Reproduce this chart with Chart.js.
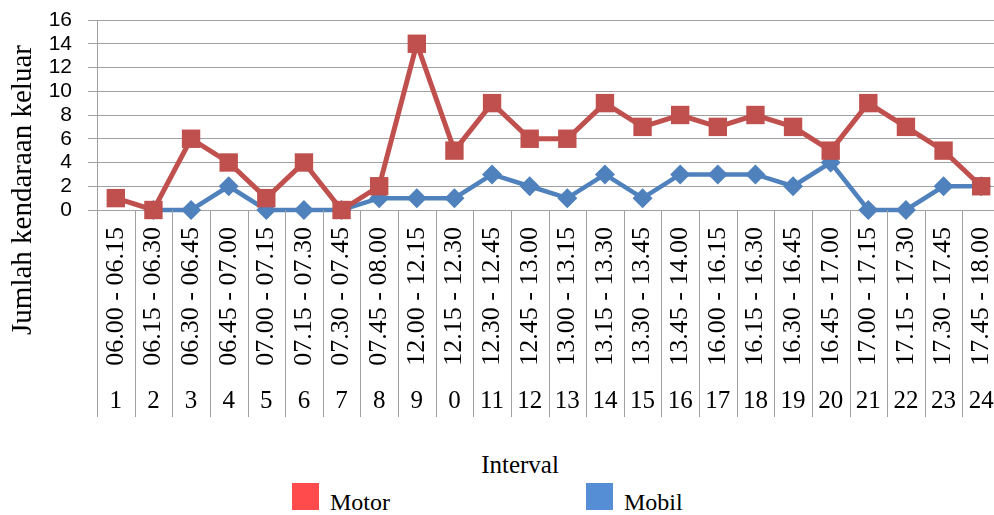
<!DOCTYPE html>
<html>
<head>
<meta charset="utf-8">
<script src="https://cdn.jsdelivr.net/npm/chart.js@4.4.1/dist/chart.umd.min.js"></script>
<style>
  html, body { margin: 0; padding: 0; background: #fff; overflow: hidden; }
  #page { position: relative; width: 994px; height: 515px; overflow: hidden; }
  #chart { position: absolute; left: 0; top: 0; }
  #yTitle { position: absolute; left: -138px; top: 173px; width: 320px; height: 34px; line-height: 34px;
    text-align: center; font: 29px "Liberation Serif"; color: #000; transform: rotate(-90deg); white-space: nowrap; }
  #axisTitle { position: absolute; left: 420px; top: 452px; width: 200px; text-align: center;
    font: 25px "Liberation Serif"; line-height: 25px; color: #000; }
  .item { position: absolute; top: 483px; height: 27px; }
  .item .box { position: absolute; left: 0; top: 0; width: 27px; height: 27px; }
  .item .txt { position: absolute; left: 38px; top: 7px; font: 24px "Liberation Serif"; line-height: 24px; color: #000; white-space: nowrap; }
</style>
</head>
<body>
<div id="page">
  <canvas id="chart" width="1000" height="418"></canvas>
  <div id="yTitle">Jumlah kendaraan keluar</div>
  <div id="axisTitle">Interval</div>
  <div id="legend"></div>
</div>
<script>
// category labels (two levels on the x axis)
const intervals = ['06.00 - 06.15', '06.15 - 06.30', '06.30 - 06.45', '06.45 - 07.00',
  '07.00 - 07.15', '07.15 - 07.30', '07.30 - 07.45', '07.45 - 08.00',
  '12.00 - 12.15', '12.15 - 12.30', '12.30 - 12.45', '12.45 - 13.00',
  '13.00 - 13.15', '13.15 - 13.30', '13.30 - 13.45', '13.45 - 14.00',
  '16.00 - 16.15', '16.15 - 16.30', '16.30 - 16.45', '16.45 - 17.00',
  '17.00 - 17.15', '17.15 - 17.30', '17.30 - 17.45', '17.45 - 18.00'];
const intervalNumbers = ['1', '2', '3', '4', '5', '6', '7', '8', '9', '0', '11', '12',
  '13', '14', '15', '16', '17', '18', '19', '20', '21', '22', '23', '24'];
// series
const motor = [1, 0, 6, 4, 1, 4, 0, 2, 14, 5, 9, 6, 6, 9, 7, 8, 7, 8, 7, 5, 9, 7, 5, 2];
const mobil = [null, 0, 0, 2, 0, 0, 0, 1, 1, 1, 3, 2, 1, 3, 1, 3, 3, 3, 2, 4, 0, 0, 2, 2];
const yTicks = [0, 2, 4, 6, 8, 10, 12, 14, 16];

const gridColor = '#a0a0a0';
const serif = 'Liberation Serif';
const legendColors = ['#ff4b4b', '#558ed5'];

// vertical separators through both label rows of the x axis
const separators = {
  id: 'separators',
  afterDraw(chart) {
    const x = chart.scales.x;
    const x2 = chart.scales.x2;
    const c = chart.ctx;
    const half = (x.getPixelForValue(1) - x.getPixelForValue(0)) / 2;
    c.save();
    c.strokeStyle = gridColor;
    c.lineWidth = 1;
    c.beginPath();
    for (let i = 0; i <= intervals.length; i++) {
      const px = Math.round(x.getPixelForValue(i) - half) + 0.5;
      c.moveTo(px, chart.chartArea.bottom);
      c.lineTo(px, x2.bottom);
    }
    c.stroke();
    c.restore();
  }
};

// fixed box sizes so the plot sits where the original one does
function noSidePadding(s) {
  s.paddingLeft = 0;
  s.paddingRight = 0;
}

const ctx = document.getElementById('chart');
const chart = new Chart(ctx, {
  type: 'line',
  data: {
    labels: intervals,
    datasets: [
      {
        label: 'Motor',
        data: motor,
        xAxisID: 'x',
        borderColor: '#c0504d',
        backgroundColor: '#c0504d',
        borderWidth: 5,
        pointStyle: 'rect',
        pointRadius: 13,
        pointBorderWidth: 0,
        tension: 0,
        clip: false
      },
      {
        label: 'Mobil',
        data: mobil,
        xAxisID: 'x',
        borderColor: '#4f81bd',
        backgroundColor: '#4f81bd',
        borderWidth: 4.5,
        pointStyle: 'rectRot',
        pointRadius: 10,
        pointBorderWidth: 0,
        tension: 0,
        clip: false
      }
    ]
  },
  options: {
    responsive: false,
    animation: false,
    layout: { autoPadding: false, padding: { left: 0, top: 20, right: 0, bottom: 1 } },
    plugins: {
      legend: { display: false },
      tooltip: { enabled: false }
    },
    scales: {
      x: {
        type: 'category',
        position: 'bottom',
        offset: true,
        weight: 0,
        grid: { display: false, drawTicks: false },
        border: { color: gridColor, width: 1 },
        ticks: {
          autoSkip: false, minRotation: 90, maxRotation: 90, padding: 17,
          color: '#000', font: { family: serif, size: 26 }
        },
        afterFit: (s) => { s.height = 157; noSidePadding(s); }
      },
      x2: {
        type: 'category',
        labels: intervalNumbers,
        position: 'bottom',
        offset: true,
        weight: 1,
        grid: { display: false, drawTicks: false },
        border: { display: false },
        ticks: { autoSkip: false, maxRotation: 0, padding: 19, color: '#000', font: { family: serif, size: 25 } },
        afterFit: (s) => { s.height = 50; noSidePadding(s); }
      },
      y: {
        min: 0,
        max: 16,
        afterBuildTicks: (scale) => { scale.ticks = yTicks.map(v => ({ value: v })); },
        grid: { color: gridColor, lineWidth: 1, tickLength: 9 },
        border: { color: gridColor, width: 1 },
        ticks: { autoSkip: false, padding: 16, color: '#000', font: { family: 'Liberation Sans', size: 21 } },
        afterFit: (s) => { s.width = 97; s.paddingTop = 0; s.paddingBottom = 0; }
      }
    }
  },
  plugins: [separators]
});

// html legend built from the datasets
const legendLeft = [292, 586];
const legendEl = document.getElementById('legend');
chart.data.datasets.forEach((ds, i) => {
  const item = document.createElement('div');
  item.className = 'item';
  item.style.left = legendLeft[i] + 'px';
  const box = document.createElement('div');
  box.className = 'box';
  box.style.background = legendColors[i];
  const txt = document.createElement('span');
  txt.className = 'txt';
  txt.textContent = ds.label;
  item.appendChild(box);
  item.appendChild(txt);
  legendEl.appendChild(item);
});
</script>
</body>
</html>
